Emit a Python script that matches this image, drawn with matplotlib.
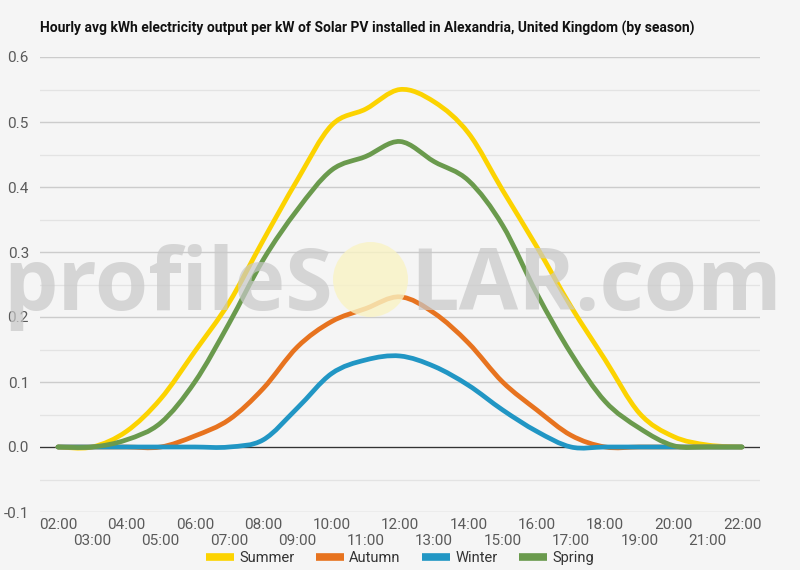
import matplotlib
matplotlib.use("Agg")
import matplotlib.pyplot as plt
from matplotlib.path import Path
from matplotlib.patches import PathPatch, Circle
from matplotlib.lines import Line2D
import numpy as np

hours = list(range(2, 23))
tick_labels = ["%02d:00" % h for h in hours]

summer = [0.0, 0.0, 0.024, 0.074, 0.147, 0.222, 0.318, 0.411, 0.495, 0.520, 0.550,
          0.531, 0.483, 0.395, 0.308, 0.216, 0.134, 0.052, 0.016, 0.003, 0.0]
autumn = [0.0, 0.0, 0.0, 0.0, 0.017, 0.042, 0.090, 0.154, 0.193, 0.213, 0.231,
          0.206, 0.160, 0.100, 0.057, 0.018, 0.0, 0.0, 0.0, 0.0, 0.0]
winter = [0.0, 0.0, 0.0, 0.0, 0.0, 0.0, 0.011, 0.060, 0.113, 0.134, 0.140,
          0.124, 0.095, 0.057, 0.024, 0.0, 0.0, 0.0, 0.0, 0.0, 0.0]
spring = [0.0, 0.0, 0.011, 0.037, 0.100, 0.190, 0.288, 0.365, 0.426, 0.447, 0.470,
          0.439, 0.410, 0.341, 0.236, 0.144, 0.070, 0.029, 0.002, 0.0, 0.0]

series = [("Summer", summer, "#FCD300"),
          ("Autumn", autumn, "#E7731F"),
          ("Winter", winter, "#2196C4"),
          ("Spring", spring, "#6A9A4D")]

title = "Hourly avg kWh electricity output per kW of Solar PV installed in Alexandria, United Kingdom (by season)"

BG = "#f5f5f5"
W, H = 800, 570


def spline_path(xs, ys):
    # catmull-rom -> cubic bezier, so the line is smooth like the original
    pts = np.column_stack([xs, ys]).astype(float)
    n = len(pts)
    verts = [pts[0]]
    codes = [Path.MOVETO]
    for i in range(n - 1):
        p0 = pts[i - 1] if i > 0 else pts[i]
        p1 = pts[i]
        p2 = pts[i + 1]
        p3 = pts[i + 2] if i + 2 < n else pts[i + 1]
        c1 = p1 + (p2 - p0) / 6.0
        c2 = p2 - (p3 - p1) / 6.0
        verts += [c1, c2, p2]
        codes += [Path.CURVE4] * 3
    return Path(verts, codes)


plt.rcParams['font.family'] = ['Roboto', 'DejaVu Sans']

fig = plt.figure(figsize=(W / 100, H / 100), dpi=100, facecolor=BG)
ax = fig.add_axes([40 / W, 1 - 512 / H, 720 / W, 455 / H], facecolor=BG)

ax.set_xlim(1.474, 22.526)
ax.set_ylim(-0.1, 0.6)

# grid: major every 0.1, lighter every 0.05
for v in np.arange(-0.05, 0.6, 0.1):
    ax.axhline(v, color="#e3e3e3", lw=0.9, zorder=0)
for v in np.arange(-0.1, 0.61, 0.1):
    ax.axhline(v, color="#cccccc", lw=1.0, zorder=0.5)
ax.axhline(0.0, color="#333333", lw=0.9, zorder=1)

for s in ax.spines.values():
    s.set_visible(False)

ax.set_yticks(np.arange(-0.1, 0.61, 0.1))
ax.set_yticklabels(["%.1f" % v for v in np.arange(-0.1, 0.61, 0.1)])
ax.set_xticks(hours)
ax.set_xticklabels([lab if h % 2 == 0 else "\n" + lab for h, lab in zip(hours, tick_labels)])
ax.tick_params(axis="both", length=0, labelsize=11, labelcolor="#5a5a5a")
ax.tick_params(axis="y", pad=8)
ax.tick_params(axis="x", pad=4)
for t in ax.get_xticklabels():
    t.set_linespacing(1.25)

# watermark
wm_y = 1 - 310 / H
fig.text(333 / W, wm_y, "profileS", ha="right", va="baseline", fontsize=62,
         family="Open Sans", weight="bold", color="#c8c8c8", alpha=0.7, zorder=2)
fig.text(410 / W, wm_y, "LAR.com", ha="left", va="baseline", fontsize=62,
         family="Open Sans", weight="bold", color="#c8c8c8", alpha=0.7, zorder=2)
sun = Circle((370.5 / 100, (H - 279.5) / 100), 37.5 / 100, transform=fig.dpi_scale_trans,
             facecolor="#f9f3c4", alpha=0.8, edgecolor="none", zorder=2)
fig.patches.append(sun)

handles = []
for i, (name, vals, col) in enumerate(series):
    patch = PathPatch(spline_path(hours, vals), facecolor="none", edgecolor=col,
                      lw=3.4, capstyle="round", joinstyle="round", zorder=3 + i)
    ax.add_patch(patch)
    handles.append(Line2D([], [], color=col, lw=5.5, solid_capstyle="butt", label=name))

fig.text(40 / W, 1 - 28 / H, title, ha="left", va="center", fontsize=10,
         weight="bold", color="#111111")

fig.legend(handles=handles, loc="center", bbox_to_anchor=(0.5, 1 - 558 / H), ncol=4,
           frameon=False, fontsize=10.5, handlelength=1.9, handletextpad=0.35,
           columnspacing=1.5, labelcolor="#333333")

fig.savefig("out.png", dpi=100, facecolor=BG)
